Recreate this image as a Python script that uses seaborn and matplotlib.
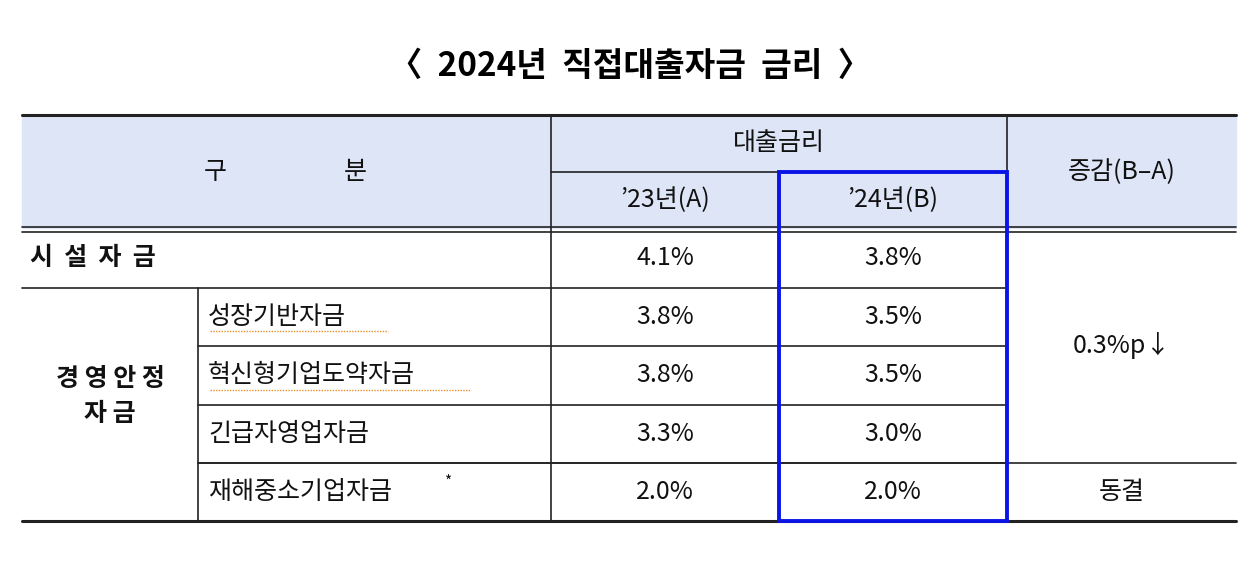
import matplotlib
matplotlib.use("Agg")
import matplotlib.pyplot as plt
import seaborn as sns
from matplotlib.patches import Rectangle

sns.set_theme(style="white")
plt.rcParams['font.family'] = ['Noto Sans CJK KR', 'DejaVu Sans']

title = "〈  2024년  직접대출자금  금리  〉"
header_main = ["구", "분"]
header_rate = "대출금리"
header_a = "’23년(A)"
header_b = "’24년(B)"
header_diff = "증감(B–A)"
group_label = "경 영 안 정\n자 금"
categories = ["시  설  자  금", "성장기반자금", "혁신형기업도약자금", "긴급자영업자금", "재해중소기업자금"]
rate_23 = ["4.1%", "3.8%", "3.8%", "3.3%", "2.0%"]
rate_24 = ["3.8%", "3.5%", "3.5%", "3.0%", "2.0%"]
diff_main = "0.3%p↓"
diff_last = "동결"

fig = plt.figure(figsize=(12.58, 5.86), dpi=100)
ax = fig.add_axes([0, 0, 1, 1])
ax.set_xlim(0, 1258); ax.set_ylim(586, 0); ax.axis("off")

L, C1, C2, C3, C4, R = 22, 198, 551, 779, 1007, 1236
rows = [228, 288, 346, 405, 463, 521]
hdr = "#DEE5F6"
ax.add_patch(Rectangle((L, 115), R - L, 113, color=hdr, zorder=0))
k = "#222222"
ax.plot([L, R], [115, 115], color=k, lw=2.2)
ax.plot([L, R], [227, 227], color=k, lw=1.2)
ax.plot([L, R], [231.5, 231.5], color=k, lw=1.2)
ax.plot([C2, C4], [172, 172], color=k, lw=1.2)
ax.plot([L, C4], [rows[1], rows[1]], color=k, lw=1.2)
for y in rows[2:5]:
    ax.plot([C1, C4], [y, y], color=k, lw=1.2)
ax.plot([C1, R], [rows[4], rows[4]], color=k, lw=1.2)
ax.plot([L, R], [521, 521], color=k, lw=2.2)
ax.plot([C1, C1], [rows[1], 521], color=k, lw=1.2)
for x in (C2, C4):
    ax.plot([x, x], [115, 521], color=k, lw=1.2)
ax.plot([C3, C3], [172, 521], color=k, lw=1.2)
ax.add_patch(Rectangle((C3, 172), C4 - C3, 521 - 172, fill=False, ec="#0A14E6", lw=2.8, zorder=5))

ax.text(630, 66, title, ha="center", va="center", fontsize=24, fontweight="bold", color="black")
fs = 18
tc = "#111111"
ax.text(215, 172, header_main[0], ha="center", va="center", fontsize=fs, color=tc)
ax.text(355, 172, header_main[1], ha="center", va="center", fontsize=fs, color=tc)
ax.text((C2 + C4) / 2, 143, header_rate, ha="center", va="center", fontsize=fs, color=tc)
ax.text((C2 + C3) / 2, 200, header_a, ha="center", va="center", fontsize=fs, color=tc)
ax.text((C3 + C4) / 2, 200, header_b, ha="center", va="center", fontsize=fs, color=tc)
ax.text((C4 + R) / 2, 172, header_diff, ha="center", va="center", fontsize=fs, color=tc)

centers = [(rows[i] + rows[i + 1]) / 2 for i in range(5)]
ax.text(30, centers[0], categories[0], ha="left", va="center", fontsize=fs, fontweight="bold", color=tc)
ax.text((L + C1) / 2, (rows[1] + 521) / 2 - 8, group_label, ha="center", va="center",
        fontsize=fs, fontweight="bold", color=tc, linespacing=1.6)
for i in range(1, 5):
    ax.text(208, centers[i], categories[i], ha="left", va="center", fontsize=fs, color=tc)
ax.text(445, centers[4] - 10, "*", ha="left", va="center", fontsize=11, color=tc)
for i in (1, 2):
    w = 178 if i == 1 else 260
    ax.plot([210, 210 + w], [centers[i] + 14, centers[i] + 14], color="#E8902A", lw=1, ls=(0, (1, 1)))
for i in range(5):
    ax.text((C2 + C3) / 2, centers[i], rate_23[i], ha="center", va="center", fontsize=fs, color=tc)
    ax.text((C3 + C4) / 2, centers[i], rate_24[i], ha="center", va="center", fontsize=fs, color=tc)
ax.text((C4 + R) / 2, (rows[0] + rows[4]) / 2, diff_main, ha="center", va="center", fontsize=fs, color=tc)
ax.text((C4 + R) / 2, centers[4], diff_last, ha="center", va="center", fontsize=fs, color=tc)

fig.savefig("out.png", dpi=100)
